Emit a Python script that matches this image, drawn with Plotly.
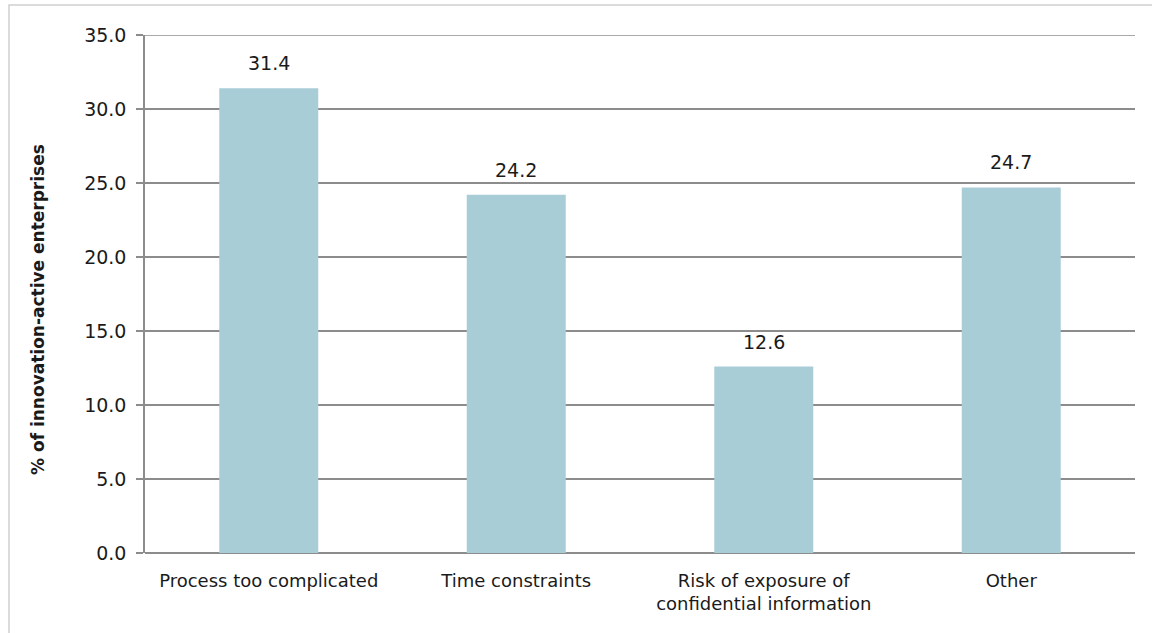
import plotly.graph_objects as go

categories = ["Process too complicated", "Time constraints",
              "Risk of exposure of<br>confidential information", "Other"]
values = [31.4, 24.2, 12.6, 24.7]
y_ticks = [0, 5, 10, 15, 20, 25, 30, 35]
y_title = "% of innovation-active enterprises"

FONT = "'DejaVu Sans', sans-serif"
GRID = "#8c8c8c"
TEXT = "#1a1a1a"

fig = go.Figure(go.Bar(
    x=categories, y=values,
    marker=dict(color="#a9cdd7", line=dict(width=0)),
    width=0.4,
    hoverinfo="x+y",
))

# value labels above each bar
for c, v in zip(categories, values):
    fig.add_annotation(
        x=c, y=v, text=f"{v:.1f}", showarrow=False,
        yanchor="bottom", yshift=12,
        font=dict(size=19, color=TEXT, family=FONT),
    )

# y-axis title
fig.add_annotation(
    xref="paper", yref="paper", x=(38 - 145) / 990, y=(553 - 310) / 518,
    text=f"<b>{y_title}</b>", textangle=-90, showarrow=False,
    xanchor="center", yanchor="middle",
    font=dict(size=17, color=TEXT, family=FONT),
)

fig.update_layout(
    width=1152, height=633,
    margin=dict(l=145, r=17, t=35, b=80),
    paper_bgcolor="white", plot_bgcolor="white",
    font=dict(family=FONT, color=TEXT, size=18),
    showlegend=False,
    xaxis=dict(
        showgrid=False, showline=False, ticks="",
        tickfont=dict(size=18), automargin=False,
        ticklabelstandoff=15,
    ),
    yaxis=dict(
        range=[0, 35], tickvals=y_ticks,
        ticktext=[f"{t:.1f}" for t in y_ticks],
        showgrid=True, gridcolor=GRID, gridwidth=1.5,
        showline=True, linecolor=GRID, linewidth=1.5,
        ticks="outside", ticklen=7, tickcolor=GRID, tickwidth=1.5,
        tickfont=dict(size=19), zeroline=True, zerolinecolor=GRID,
        zerolinewidth=1.5, ticklabelstandoff=6,
        automargin=False,
    ),
    shapes=[
        # outer chart border
        dict(
            type="rect", xref="paper", yref="paper",
            x0=(9 - 145) / 990, x1=(1160 - 145) / 990,
            y0=-(650 - 553) / 518, y1=1 + (35 - 5) / 518,
            line=dict(color="#d0d0d0", width=1.5), fillcolor="rgba(0,0,0,0)",
            layer="below",
        ),
        # top gridline at the range maximum
        dict(
            type="line", xref="paper", yref="y", x0=0, x1=1, y0=35, y1=35,
            line=dict(color=GRID, width=1.5), layer="below",
        ),
    ],
)

fig.write_html("out.html")
